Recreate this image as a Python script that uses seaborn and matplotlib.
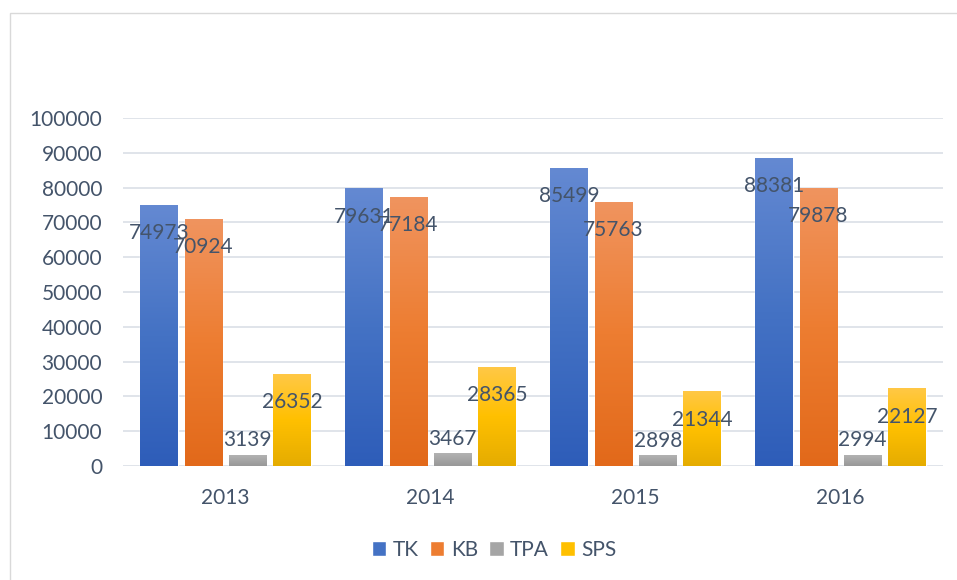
import numpy as np
import pandas as pd
import seaborn as sns
import matplotlib.pyplot as plt
from matplotlib.colors import LinearSegmentedColormap
from matplotlib.patches import Patch, Rectangle

years = ["2013", "2014", "2015", "2016"]
series = ["TK", "KB", "TPA", "SPS"]
tk = [74973, 79631, 85499, 88381]
kb = [70924, 77184, 75763, 79878]
tpa = [3139, 3467, 2898, 2994]
sps = [26352, 28365, 21344, 22127]

# gradient colours per series: bottom, middle, top
grads = {
    "TK": ["#2E5DB9", "#4472C4", "#6489D2"],
    "KB": ["#E2691A", "#ED7D31", "#F0945F"],
    "TPA": ["#989898", "#A5A5A5", "#B2B2B2"],
    "SPS": ["#E5AC00", "#FFC000", "#FFC846"],
}
text_col = "#44546A"

df = pd.DataFrame({
    "year": years * 4,
    "series": [s for s in series for _ in years],
    "value": tk + kb + tpa + sps,
})

sns.set_style("white")
plt.rcParams["font.family"] = ["Lato", "DejaVu Sans"]

fig = plt.figure(figsize=(9.57, 5.8), dpi=100)
ax = fig.add_axes([123 / 957, 1 - 466 / 580, 820 / 957, 348 / 580])

sns.barplot(data=df, x="year", y="value", hue="series", hue_order=series,
            order=years, palette=[grads[s][1] for s in series],
            width=0.865, gap=0.165, legend=False, ax=ax, zorder=2)

ax.set_ylim(0, 100000)
ax.set_xlim(-0.5, 3.5)
ax.set_yticks(range(0, 100001, 10000))
ax.yaxis.grid(True, color="#DADFE6", lw=1.2, zorder=0)
ax.set_axisbelow(True)
sns.despine(ax=ax, left=True, bottom=True, top=True, right=True)
ax.tick_params(axis="both", length=0, labelsize=15, labelcolor=text_col)
ax.tick_params(axis="y", pad=15)
ax.tick_params(axis="x", pad=16)
ax.set_xlabel("")
ax.set_ylabel("")

# gradient fill over each bar + labels
for cont, s in zip(ax.containers, series):
    cmap = LinearSegmentedColormap.from_list(s, grads[s])
    for bar in cont:
        x0, y0 = bar.get_x(), bar.get_y()
        w, h = bar.get_width(), bar.get_height()
        grad = np.linspace(0, 1, 256).reshape(-1, 1)
        ax.imshow(grad, extent=(x0, x0 + w, y0, y0 + h), origin="lower",
                  aspect="auto", cmap=cmap, zorder=2.1)
        bar.set_facecolor("none")
        off = -20 if h > 10000 else 11
        ax.annotate(f"{h:.0f}", (x0 + w / 2, y0 + h), xytext=(0, off),
                    textcoords="offset points", ha="center", va="center",
                    fontsize=15, color=text_col, zorder=5)

ax.set_ylim(0, 100000)
ax.set_xlim(-0.5, 3.5)

handles = [Patch(facecolor=grads[s][1], label=s) for s in series]
fig.legend(handles=handles, loc="center", bbox_to_anchor=(494 / 957, 1 - 550 / 580),
           ncol=4, frameon=False, fontsize=15, labelcolor=text_col,
           handlelength=0.7, handleheight=0.7, handletextpad=0.3,
           columnspacing=0.55)

fig.add_artist(Rectangle((10 / 957, -0.05), 1.1, 1 - 13 / 580 + 0.05,
                         transform=fig.transFigure, fill=False,
                         edgecolor="#D9D9D9", lw=1))

fig.savefig("out.png", dpi=100)
